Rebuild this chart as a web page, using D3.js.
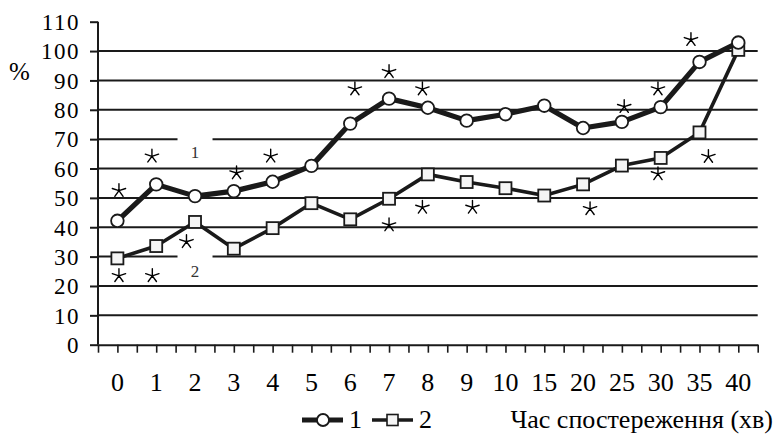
<!DOCTYPE html>
<html><head><meta charset="utf-8">
<script src="https://cdn.jsdelivr.net/npm/d3@7/dist/d3.min.js"></script>
<style>html,body{margin:0;padding:0;background:#fff;} svg{display:block;}</style>
</head><body><svg id="chart" width="782" height="434"></svg>
<script>
// ---------- data ----------
const categories = ["0","1","2","3","4","5","6","7","8","9","10","15","20","25","30","35","40"];
const series1 = [42.2,54.6,50.6,52.3,55.5,60.9,75.3,83.8,80.7,76.3,78.5,81.4,73.8,75.9,80.9,96.3,102.9];
const series2 = [29.4,33.6,41.8,32.7,39.7,48.2,42.7,49.7,58.0,55.4,53.3,50.8,54.6,61.0,63.6,72.3,100.4];
const seriesNames = ["1","2"];
const yTicks = [0,10,20,30,40,50,60,70,80,90,100,110];
const gridValues = [10,20,30,40,50,60,70,80,90,100];
// significance stars: category, offset within the band, value level
const starsCat = ["0","1","3","4","6","7","8","25","30","35","0","1","2","7","8","9","20","30","35"];
const starsOffset = [0.04,-0.11,0.07,-0.05,0.12,0,-0.14,0.06,-0.07,-0.22,0.04,-0.10,-0.22,0,-0.14,0.15,0.18,-0.07,0.23];
const starsValue = [52.7,64.4,58.7,64.4,87.3,93.2,87.3,81.3,87.3,104.1,23.7,23.7,35.3,41.0,47.0,47.0,46.5,58.4,64.3];
// in-chart series labels (category, label level)
const labelCat = ["2","2"];
const labelValue = [65.6,25.1];
const xTitle = "Час спостереження (хв)";
const yTitle = "%";

// ---------- layout ----------
const svg = d3.select("#chart");
const mLeft = 98, mRight = 757.7, mTop = 21.7, mBottom = 344.7;
const INK = "#1a1a1a";
const serif = sel => sel.style("font-family", '"Liberation Serif"');

const x = d3.scaleBand().domain(categories).range([mLeft, mRight]).padding(0);
const bw = x.bandwidth();
const xc = c => x(c) + bw / 2;
const y = d3.scaleLinear().domain([0, 110]).range([mBottom, mTop]);

// gridlines
svg.append("g").selectAll("line").data(gridValues).join("line")
  .attr("x1", mLeft).attr("x2", mRight)
  .attr("y1", d => y(d)).attr("y2", d => y(d))
  .attr("stroke", INK).attr("stroke-width", 2);

// white boxes behind the series labels
svg.append("g").selectAll("rect").data(labelCat).join("rect")
  .attr("x", d => xc(d) - 17.5).attr("width", 35)
  .attr("y", (d, i) => y(labelValue[i] + 5.9)).attr("height", (d, i) => y(labelValue[i] - 4.4) - y(labelValue[i] + 5.9))
  .attr("fill", "#fff");
svg.append("g").selectAll("text").data(labelCat).join("text")
  .attr("x", d => xc(d)).attr("y", (d, i) => y(labelValue[i]) + 6)
  .attr("text-anchor", "middle").style("font-size", "17px")
  .attr("fill", "#333").text((d, i) => seriesNames[i]).call(serif);

// y axis
const yAxis = svg.append("g").attr("transform", `translate(${mLeft},0)`)
  .call(d3.axisLeft(y).tickValues(yTicks).tickSize(8).tickPadding(10).tickFormat(d3.format("d")));
yAxis.select(".domain").attr("stroke", INK).attr("stroke-width", 2).attr("d", `M-0,${mTop}V${mBottom}`);
yAxis.selectAll(".tick line").attr("stroke", INK).attr("stroke-width", 2);
yAxis.selectAll(".tick text").style("font-size", "23px").attr("fill", "#000")
  .style("letter-spacing", "1.5px").attr("dy", "0.34em").call(serif);

// x axis: line + ticks at every half band
const xh = d3.scaleLinear().domain([0, categories.length * 2]).range([mLeft, mRight]);
const xTickAxis = svg.append("g").attr("transform", `translate(0,${mBottom})`)
  .call(d3.axisBottom(xh).tickValues(d3.range(0, categories.length * 2 + 1)).tickSize(8).tickSizeOuter(0).tickFormat(""));
xTickAxis.select(".domain").attr("stroke", INK).attr("stroke-width", 2);
xTickAxis.selectAll(".tick line").attr("stroke", INK).attr("stroke-width", 1.6);

const xAxis = svg.append("g").attr("transform", `translate(0,${mBottom})`)
  .call(d3.axisBottom(x).tickSize(0).tickPadding(0));
xAxis.select(".domain").remove();
xAxis.selectAll(".tick text").style("font-size", "26px").attr("fill", "#000")
  .attr("y", 46).attr("dy", 0).call(serif);

// series lines
const line = d3.line().x((d, i) => xc(categories[i])).y(d => y(d));
svg.append("path").datum(series2).attr("d", line).attr("fill", "none")
  .attr("stroke", INK).attr("stroke-width", 3.6).attr("stroke-linejoin", "round");
svg.append("path").datum(series1).attr("d", line).attr("fill", "none")
  .attr("stroke", INK).attr("stroke-width", 5.2).attr("stroke-linejoin", "round");

// markers
svg.append("g").selectAll("rect").data(series2).join("rect")
  .attr("x", (d, i) => xc(categories[i]) - 6).attr("y", d => y(d) - 6)
  .attr("width", 12).attr("height", 12)
  .attr("fill", "#f5f5f5").attr("stroke", INK).attr("stroke-width", 1.8);
svg.append("g").selectAll("circle").data(series1).join("circle")
  .attr("cx", (d, i) => xc(categories[i])).attr("cy", d => y(d)).attr("r", 6.3)
  .attr("fill", "#fff").attr("stroke", INK).attr("stroke-width", 1.8);

// stars
const R = 7;
const starPath = d3.range(5).map(k => {
  const a = (-90 + 72 * k) * Math.PI / 180;
  return `M0,0L${(R * Math.cos(a)).toFixed(2)},${(R * Math.sin(a)).toFixed(2)}`;
}).join("");
svg.append("g").selectAll("path").data(starsCat).join("path")
  .attr("transform", (d, i) => `translate(${xc(d) + starsOffset[i] * bw},${y(starsValue[i]) + 0.7})`)
  .attr("d", starPath).attr("stroke", "#000").attr("stroke-width", 1.4).attr("fill", "none")
  .attr("stroke-linecap", "round");

// y title
svg.append("text").attr("x", 9).attr("y", 80).style("font-size", "25px")
  .attr("fill", "#000").text(yTitle).call(serif);

// legend
const legendX = [302, 372];
const legendY = 420;
const lg = svg.append("g");
lg.append("line").attr("x1", legendX[0]).attr("x2", legendX[0] + 41).attr("y1", legendY).attr("y2", legendY)
  .attr("stroke", INK).attr("stroke-width", 5.2);
lg.append("circle").attr("cx", legendX[0] + 21).attr("cy", legendY).attr("r", 6)
  .attr("fill", "#fff").attr("stroke", INK).attr("stroke-width", 1.8);
lg.append("line").attr("x1", legendX[1]).attr("x2", legendX[1] + 41).attr("y1", legendY).attr("y2", legendY)
  .attr("stroke", INK).attr("stroke-width", 3.4);
lg.append("rect").attr("x", legendX[1] + 20.5 - 5.5).attr("y", legendY - 5.5).attr("width", 11).attr("height", 11)
  .attr("fill", "#f5f5f5").attr("stroke", INK).attr("stroke-width", 1.6);
lg.selectAll("text").data(seriesNames).join("text")
  .attr("x", (d, i) => legendX[i] + 47).attr("y", 428)
  .style("font-size", "26px").attr("fill", "#000").text(d => d).call(serif);

// x title
svg.append("text").attr("x", 773).attr("y", 428).attr("text-anchor", "end")
  .style("font-size", "26px").attr("fill", "#000").text(xTitle).call(serif);
</script></body></html>
